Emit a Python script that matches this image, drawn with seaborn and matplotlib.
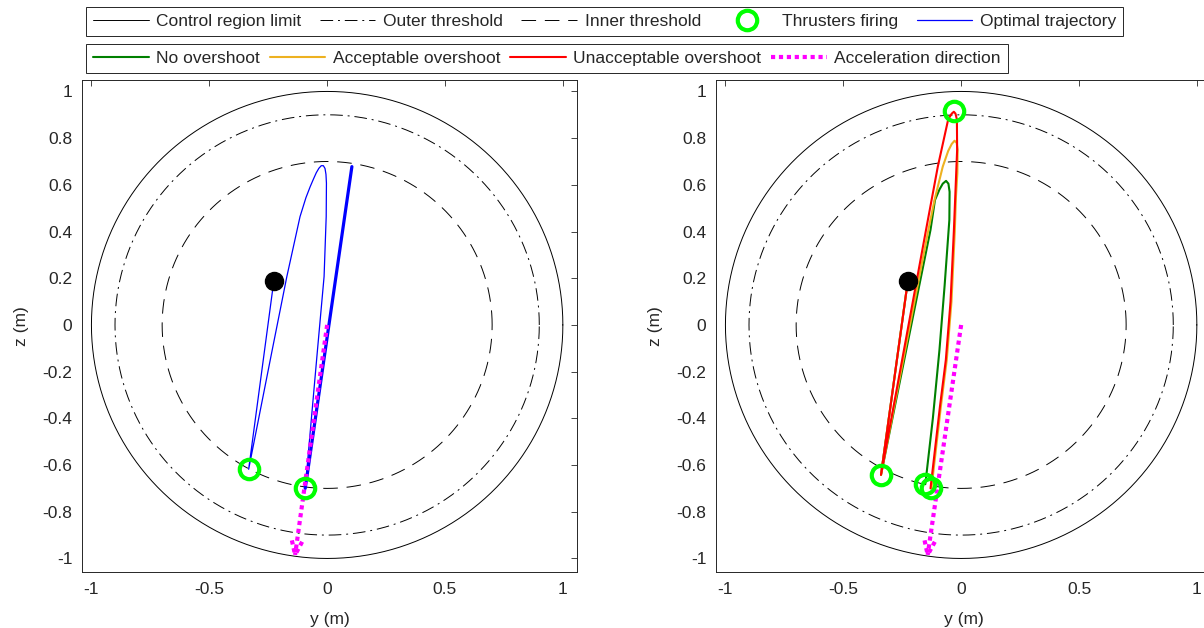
import numpy as np
import pandas as pd
import matplotlib
matplotlib.use("Agg")
import matplotlib.pyplot as plt
from matplotlib.lines import Line2D
import seaborn as sns

# Threshold radii (m)
control_radius = 1.0
outer_radius = 0.9
inner_radius = 0.7

# Initial position of the free-flyer (y, z)
start_y, start_z = -0.226, 0.190

# Left panel: optimal trajectory
optimal_y = [-0.226, -0.333, -0.233, -0.171, -0.115, -0.090, -0.072, -0.058, -0.046,
             -0.035, -0.025, -0.016, -0.009, -0.005, -0.003, -0.004, -0.013, -0.041, -0.093]
optimal_z = [0.190, -0.618, -0.107, 0.207, 0.464, 0.545, 0.592, 0.625, 0.652,
             0.671, 0.682, 0.682, 0.670, 0.645, 0.607, 0.464, 0.207, -0.107, -0.700]
optimal_final_y = [-0.093, 0.105]
optimal_final_z = [-0.700, 0.678]
left_fire_y = [-0.333, -0.093]
left_fire_z = [-0.618, -0.700]
left_accel = (-0.136, -0.985)

# Right panel: overshoot cases
no_overshoot_y = [-0.226, -0.340, -0.130, -0.111, -0.092, -0.078, -0.064, -0.054,
                  -0.049, -0.050, -0.070, -0.092, -0.120, -0.152]
no_overshoot_z = [0.190, -0.642, 0.407, 0.535, 0.580, 0.605, 0.617, 0.605,
                  0.570, 0.450, 0.170, -0.107, -0.400, -0.682]
acceptable_y = [-0.226, -0.340, -0.139, -0.113, -0.078, -0.055, -0.040, -0.028,
                -0.019, -0.015, -0.016, -0.022, -0.027, -0.041, -0.061, -0.086, -0.126]
acceptable_z = [0.190, -0.642, 0.407, 0.535, 0.678, 0.745, 0.775, 0.789,
                0.780, 0.750, 0.650, 0.550, 0.400, 0.100, -0.150, -0.350, -0.700]
unacceptable_y = [-0.226, -0.340, -0.149, -0.099, -0.055, -0.040, -0.031, -0.024,
                  -0.018, -0.017, -0.025, -0.031, -0.045, -0.065, -0.090, -0.130]
unacceptable_z = [0.190, -0.642, 0.407, 0.678, 0.880, 0.905, 0.913, 0.905,
                  0.880, 0.750, 0.550, 0.400, 0.100, -0.150, -0.350, -0.700]
right_fire_y = [-0.340, -0.031, -0.152, -0.130]
right_fire_z = [-0.642, 0.916, -0.682, -0.700]
right_accel = (-0.142, -0.985)

x_ticks = [-1, -0.5, 0, 0.5, 1]
x_tick_labels = ["-1", "-0.5", "0", "0.5", "1"]
y_ticks = [-1, -0.8, -0.6, -0.4, -0.2, 0, 0.2, 0.4, 0.6, 0.8, 1]
y_tick_labels = ["-1", "-0.8", "-0.6", "-0.4", "-0.2", "0", "0.2", "0.4", "0.6", "0.8", "1"]

legend_top = ["Control region limit", "Outer threshold", "Inner threshold",
              "Thrusters firing", "Optimal trajectory"]
legend_bottom = ["No overshoot", "Acceptable overshoot", "Unacceptable overshoot",
                 "Acceleration direction"]

sns.set_theme(style="white")
plt.rcParams["font.family"] = ["Liberation Sans", "DejaVu Sans"]
plt.rcParams["font.size"] = 12.5

C_GREEN = "#008000"
C_ORANGE = "#EDB120"
C_RED = "#FF0000"
C_BLUE = "#0000FF"
C_MAG = "#FF00FF"
C_FIRE = "#00FF00"
C_AX = "#262626"

fig = plt.figure(figsize=(12.04, 6.28), dpi=100)
ax_l = fig.add_axes([82 / 1204, 1 - 572 / 628, 495 / 1204, 492 / 628])
ax_r = fig.add_axes([716 / 1204, 1 - 572 / 628, 495 / 1204, 492 / 628])

theta = np.linspace(0, 2 * np.pi, 721)
DASHDOT = (13, 5, 2, 5)
DASHED = (15, 9)


def draw_regions(ax):
    h1, = ax.plot(control_radius * np.cos(theta), control_radius * np.sin(theta),
                  color="black", lw=0.7, ls="-")
    h2, = ax.plot(outer_radius * np.cos(theta), outer_radius * np.sin(theta),
                  color="black", lw=0.7, dashes=DASHDOT)
    h3, = ax.plot(inner_radius * np.cos(theta), inner_radius * np.sin(theta),
                  color="black", lw=0.7, dashes=DASHED)
    return h1, h2, h3


def draw_accel(ax, vec):
    dy, dz = vec
    ax.plot([0, dy], [0, dz], color=C_MAG, lw=3, dashes=(1, 0.9),
            dash_capstyle="butt", zorder=4)
    # arrow head barbs
    L = np.hypot(dy, dz)
    u = np.array([dy, dz]) / L
    p = np.array([-u[1], u[0]])
    tip = np.array([dy, dz])
    for s in (1, -1):
        base = tip - 0.06 * u + s * 0.022 * p
        ax.plot([base[0], tip[0]], [base[1], tip[1]], color=C_MAG, lw=3,
                dashes=(1, 0.9), dash_capstyle="butt", zorder=4)


def style_axes(ax):
    ax.set_xlim(-1.04, 1.06)
    ax.set_ylim(-1.058, 1.049)
    ax.set_xticks(x_ticks)
    ax.set_xticklabels(x_tick_labels)
    ax.set_yticks(y_ticks)
    ax.set_yticklabels(y_tick_labels)
    ax.tick_params(direction="in", length=4, width=0.6, colors=C_AX,
                   top=True, right=True, labelsize=12.5, pad=7,
                   labelcolor=C_AX)
    for sp in ax.spines.values():
        sp.set_color(C_AX)
        sp.set_linewidth(0.7)
    ax.set_xlabel("y (m)", fontsize=12.5, color=C_AX, labelpad=11)
    ax.set_ylabel("z (m)", fontsize=12.5, color=C_AX, labelpad=10)


# ---- left panel ----
h_ctrl, h_outer, h_inner = draw_regions(ax_l)
sns.lineplot(x=optimal_y, y=optimal_z, sort=False, estimator=None, ax=ax_l,
             color=C_BLUE, lw=0.9)
h_opt = ax_l.lines[-1]
sns.lineplot(x=optimal_final_y, y=optimal_final_z, sort=False, estimator=None,
             ax=ax_l, color=C_BLUE, lw=2.3)
draw_accel(ax_l, left_accel)
ax_l.plot([start_y], [start_z], "o", color="black", ms=13, zorder=5)
h_fire, = ax_l.plot(left_fire_y, left_fire_z, "o", ls="none", mfc="none",
                    mec=C_FIRE, ms=14, mew=3, zorder=6)
style_axes(ax_l)

# ---- right panel ----
draw_regions(ax_r)
sns.lineplot(x=no_overshoot_y, y=no_overshoot_z, sort=False, estimator=None,
             ax=ax_r, color=C_GREEN, lw=1.5)
h_no = ax_r.lines[-1]
sns.lineplot(x=acceptable_y, y=acceptable_z, sort=False, estimator=None,
             ax=ax_r, color=C_ORANGE, lw=1.5)
h_acc = ax_r.lines[-1]
sns.lineplot(x=unacceptable_y, y=unacceptable_z, sort=False, estimator=None,
             ax=ax_r, color=C_RED, lw=1.5)
h_unacc = ax_r.lines[-1]
draw_accel(ax_r, right_accel)
ax_r.plot([start_y], [start_z], "o", color="black", ms=13, zorder=5)
ax_r.plot(right_fire_y, right_fire_z, "o", ls="none", mfc="none",
          mec=C_FIRE, ms=14, mew=3, zorder=6)
style_axes(ax_r)

h_accel = Line2D([], [], color=C_MAG, lw=3, dashes=(1, 0.9), dash_capstyle="butt")

leg_kw = dict(frameon=True, fancybox=False, shadow=False, framealpha=1,
              edgecolor=C_AX, fontsize=12.5, handlelength=3.2,
              handletextpad=0.45, borderpad=0.4,
              borderaxespad=0, loc="upper left")
leg1 = fig.legend([h_ctrl, h_outer, h_inner, h_fire, h_opt], legend_top,
                  ncol=5, columnspacing=1.05,
                  bbox_to_anchor=(86 / 1204, 1 - 7 / 628), **leg_kw)
leg1.get_frame().set_linewidth(0.7)
leg2 = fig.legend([h_no, h_acc, h_unacc, h_accel], legend_bottom,
                  ncol=4, columnspacing=0.55,
                  bbox_to_anchor=(86 / 1204, 1 - 44 / 628), **leg_kw)
leg2.get_frame().set_linewidth(0.7)

fig.savefig("out.png", dpi=100, facecolor="white")
